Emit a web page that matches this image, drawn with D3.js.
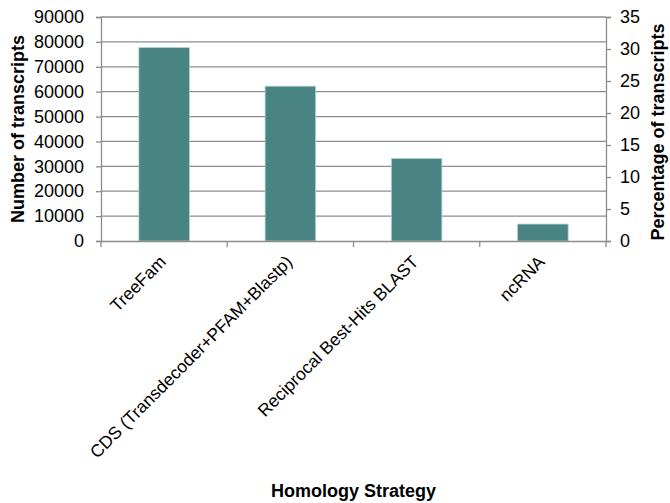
<!DOCTYPE html>
<html>
<head>
<meta charset="utf-8">
<script src="https://cdn.jsdelivr.net/npm/d3@7"></script>
<style>
  body { margin: 0; background: #fff; }
  svg text { font-family: Arial, "Liberation Sans", sans-serif; fill: #000; }
</style>
</head>
<body>
<svg id="chart"></svg>
<script>
const categories = ['TreeFam', 'CDS (Transdecoder+PFAM+Blastp)', 'Reciprocal Best-Hits BLAST', 'ncRNA'];
const transcripts = [77700, 62200, 33100, 6800];
const leftTicks = [0, 10000, 20000, 30000, 40000, 50000, 60000, 70000, 80000, 90000];
const rightTicks = [0, 5, 10, 15, 20, 25, 30, 35];

const svgWidth = 670, svgHeight = 503;
const margin = { top: 17, right: 64, bottom: 262, left: 101 };
const chartWidth = svgWidth - margin.left - margin.right;
const chartHeight = svgHeight - margin.top - margin.bottom;

const svg = d3.select('#chart').attr('width', svgWidth).attr('height', svgHeight);
const g = svg.append('g').attr('transform', `translate(${margin.left}, ${margin.top})`);

const xScale = d3.scaleBand().domain(categories).range([0, chartWidth]).paddingInner(0.6).paddingOuter(0.3);
const xTicks = d3.scaleBand().domain(categories).range([0, chartWidth]);
const yScale = d3.scaleLinear().domain([0, 90000]).range([chartHeight, 0]);
const yRight = d3.scaleLinear().domain([0, 35]).range([chartHeight, 0]);

// gridlines
g.selectAll('.grid')
  .data(leftTicks.slice(1))
  .enter().append('line')
  .attr('x1', 0).attr('x2', chartWidth)
  .attr('y1', d => yScale(d)).attr('y2', d => yScale(d))
  .attr('stroke', '#8c8c8c').attr('stroke-width', 1.3);

// bars
g.selectAll('.bar')
  .data(transcripts)
  .enter().append('rect')
  .attr('x', (d, i) => xScale(categories[i]))
  .attr('y', d => yScale(d))
  .attr('width', xScale.bandwidth())
  .attr('height', d => chartHeight - yScale(d))
  .attr('fill', '#4a8482')
  .attr('stroke', '#a9cfd0')
  .attr('stroke-width', 0.8);

// left axis
const leftAxis = g.append('g')
  .call(d3.axisLeft(yScale).tickValues(leftTicks).tickSize(5).tickPadding(12).tickFormat(d3.format('d')));
leftAxis.selectAll('text').style('font-size', '18px');
leftAxis.selectAll('line, path').attr('stroke', '#8c8c8c').attr('stroke-width', 1.3);

// right axis
const rightAxis = g.append('g')
  .attr('transform', `translate(${chartWidth}, 0)`)
  .call(d3.axisRight(yRight).tickValues(rightTicks).tickSize(5).tickPadding(9));
rightAxis.selectAll('text').style('font-size', '18px');
rightAxis.selectAll('line, path').attr('stroke', '#8c8c8c').attr('stroke-width', 1.3);

// bottom axis
const xAxisGroup = g.append('g')
  .attr('transform', `translate(0, ${chartHeight})`)
  .call(d3.axisBottom(xTicks).tickSize(0).tickFormat(''));
xAxisGroup.select('.domain').attr('stroke', '#8c8c8c').attr('stroke-width', 1.3);
xAxisGroup.selectAll('.tick').remove();

// bottom tick marks at band boundaries
g.selectAll('.xtick')
  .data(categories.concat(['end']))
  .enter().append('line')
  .attr('x1', (d, i) => i < categories.length ? xTicks(d) : chartWidth)
  .attr('x2', (d, i) => i < categories.length ? xTicks(d) : chartWidth)
  .attr('y1', chartHeight).attr('y2', chartHeight + 6)
  .attr('stroke', '#8c8c8c').attr('stroke-width', 1.3);

// rotated category labels
g.selectAll('.xlabel')
  .data(categories)
  .enter().append('text')
  .attr('transform', d => `translate(${xTicks(d) + xTicks.bandwidth() / 2 + 3}, ${chartHeight + 22}) rotate(-45)`)
  .attr('text-anchor', 'end')
  .style('font-size', '17.5px')
  .text(d => d);

// axis titles
svg.append('text')
  .attr('transform', `translate(24, ${margin.top + chartHeight / 2}) rotate(-90)`)
  .attr('text-anchor', 'middle')
  .style('font-size', '18px').style('font-weight', 'bold')
  .text('Number of transcripts');

svg.append('text')
  .attr('transform', `translate(664, ${margin.top + chartHeight / 2 + 3}) rotate(-90)`)
  .attr('text-anchor', 'middle')
  .style('font-size', '18px').style('font-weight', 'bold')
  .text('Percentage of transcripts');

svg.append('text')
  .attr('x', margin.left + chartWidth / 2)
  .attr('y', 497)
  .attr('text-anchor', 'middle')
  .style('font-size', '18px').style('font-weight', 'bold')
  .text('Homology Strategy');
</script>
</body>
</html>
